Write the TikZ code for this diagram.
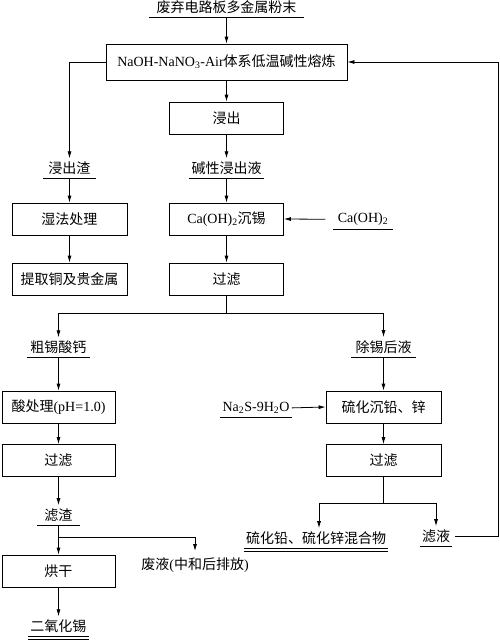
\documentclass[tikz,border=0pt]{standalone}
\usepackage{fontspec}
\setmainfont{Liberation Serif}
\newfontfamily\zh{Noto Sans CJK SC}
\usetikzlibrary{arrows.meta}

\begin{document}
\begin{tikzpicture}[x=1pt, y=-1pt, font=\fontsize{14pt}{16pt}\selectfont,
    line width=0.8pt,
    arr/.style={-{Latex[length=7pt,width=4pt]}},
    box/.style={draw, inner sep=0pt, minimum height=32pt},
    lbl/.style={anchor=south, inner xsep=4pt, inner ysep=3pt}]

                \useasboundingbox (0,0) rectangle (500,641);

                % Main line
                \node[lbl, inner xsep=7pt] (feed) at (226.5,17) {\zh 废弃电路板多金属粉末};
                \node[box, minimum width=241pt, minimum height=36pt] (melt) at (226.5,62)
                    {NaOH-NaNO\textsubscript{3}-Air{\zh 体系低温碱性熔炼}};
                \node[box, minimum width=114pt] (leach) at (226.5,118) {\zh 浸出};
                \node[lbl, inner xsep=2.5pt] (liq) at (226.5,178) {\zh 碱性浸出液};
                \node[box, minimum width=114pt] (prec) at (226.5,219) {Ca(OH)\textsubscript{2}{\zh 沉锡}};
                \node[lbl] (ca) at (363,229) {Ca(OH)\textsubscript{2}};
                \node[box, minimum width=114pt] (filt1) at (226.5,279) {\zh 过滤};

                % Leach residue
                \node[lbl, inner xsep=5pt] (res) at (69.5,178) {\zh 浸出渣};
                \node[box, minimum width=115pt] (wet) at (69.5,219) {\zh 湿法处理};
                \node[box, minimum width=115pt] (cu) at (69.5,279) {\zh 提取铜及贵金属};

                % Tin branch
                \node[lbl, inner xsep=3.5pt] (caso) at (58.5,357) {\zh 粗锡酸钙};
                \node[box, minimum width=113pt] (acid) at (58.5,407) {{\zh 酸处理}(pH=1.0)};
                \node[box, minimum width=113pt] (filt2) at (58.5,460.5) {\zh 过滤};
                \node[lbl, inner xsep=7pt] (slag) at (58.5,525) {\zh 滤渣};
                \node[box, minimum width=113pt] (dry) at (58.5,571) {\zh 烘干};
                \node[lbl, inner xsep=2pt] (sno2) at (58.5,636) {\zh 二氧化锡};
                \node[anchor=north, inner ysep=6pt] (waste) at (195,551) {{\zh 废液}({\zh 中和后排放})};

                % Lead and zinc branch
                \node[lbl] (rem) at (383.5,357) {\zh 除锡后液};
                \node[box, minimum width=115pt] (sulf) at (383.5,407) {\zh 硫化沉铅、锌};
                \node[lbl, inner xsep=2pt] (na) at (256,417) {Na\textsubscript{2}S-9H\textsubscript{2}O};
                \node[box, minimum width=115pt] (filt3) at (383.5,460.5) {\zh 过滤};
                \node[lbl, inner xsep=2pt] (mix) at (316,548) {\zh 硫化铅、硫化锌混合物};
                \node[lbl, inner xsep=2pt] (filt) at (436,546) {\zh 滤液};
                \coordinate (rt) at (498.5,0);

                % Underlines
                \foreach \n in {feed,liq,ca,res,caso,slag,rem,na,filt}
                    \draw[line width=0.7pt] (\n.south west) -- (\n.south east);
                \foreach \n in {mix,sno2}
                    \draw[line width=0.7pt] (\n.south west) -- (\n.south east)
                        ([yshift=-3pt]\n.south west) -- ([yshift=-3pt]\n.south east);

                % Connectors of the main line
                \draw[arr] (feed.south) -- (melt.north);
                \draw[arr] (melt.south) -- (leach.north);
                \draw[arr] (leach.south) -- (liq.north);
                \draw[arr] (liq.south) -- (prec.north);
                \draw[arr] ([xshift=-8pt]ca.west) -- (prec.east);
                \draw[arr] (prec.south) -- (filt1.north);
                \draw[arr] (melt.west) -| (res.north);
                \draw[arr] (res.south) -- (wet.north);
                \draw[arr] (wet.south) -- (cu.north);

                % Split after filtering
                \draw (filt1.south) -- ++(0,18) coordinate (sp1);
                \draw[arr] (sp1) -| (caso.north);
                \draw[arr] (sp1) -| (rem.north);

                % Tin branch
                \draw[arr] (caso.south) -- (acid.north);
                \draw[arr] (acid.south) -- (filt2.north);
                \draw[arr] (filt2.south) -- (slag.north);
                \draw[arr] (slag.south) -- (dry.north);
                \path (slag.south) -- (dry.north) coordinate[pos=0.43] (sp2);
                \draw[arr] (sp2) -| (waste.north);
                \draw[arr] (dry.south) -- (sno2.north);

                % Lead and zinc branch
                \draw[arr] (rem.south) -- (sulf.north);
                \draw[arr] (na.east) -- (sulf.west);
                \draw[arr] (sulf.south) -- (filt3.north);
                \draw (filt3.south) -- ++(0,26) coordinate (sp3);
                \draw[arr] (sp3) -| ([xshift=3pt]mix.north);
                \draw[arr] (sp3) -| (filt.north);

                % Recycle
                \draw[arr, shorten <=3pt] (filt.east) -- (filt.east -| rt) |- (melt.east);

\end{tikzpicture}
\end{document}
